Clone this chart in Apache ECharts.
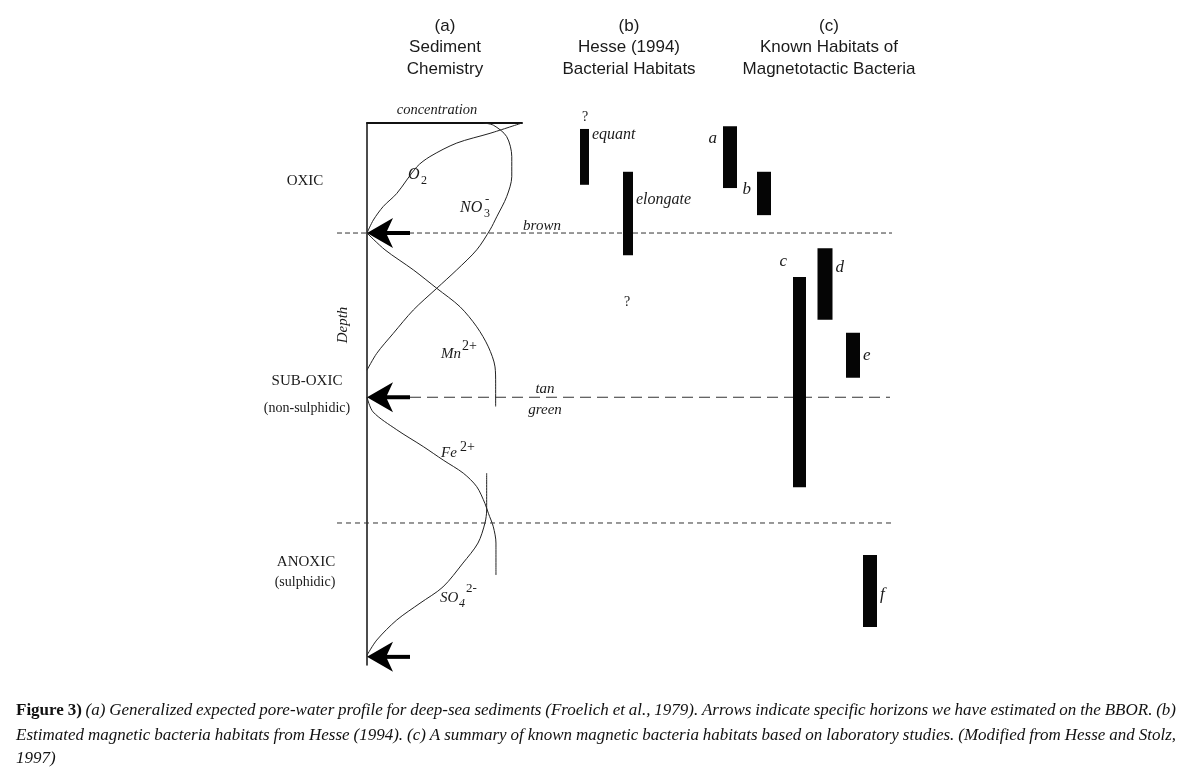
<!DOCTYPE html>
<html lang="en">
<head>
<meta charset="UTF-8">
<title>Sediment chemistry and magnetotactic bacteria habitats</title>
<script src="https://cdn.jsdelivr.net/npm/echarts@6/dist/echarts.min.js"></script>
<style>html,body{margin:0;background:#fff;}</style>
</head>
<body>
<div id="main" style="width:1193px;height:770px;"></div>
<script>
// depth: 0 = sediment surface, 100 = base of profile; concentration: relative 0..100
var o2Profile = [[100, 0], [79.4, 1.9], [57.9, 3.7], [40.6, 6.2], [32.1, 8.1], [19.2, 13.0], [10.5, 15.4], [4.1, 17.9], [0, 20.3]];
var no3Profile = [[75, 0], [81.5, 0.4], [90.1, 2.5], [93.4, 6.2], [93.4, 9.9], [90.1, 13.6], [83.7, 17.3], [79.4, 19.7], [70.8, 23.4], [57.9, 27.1], [45.0, 30.5], [29.9, 34.5], [17.0, 38.8], [6.3, 42.5], [0, 45.6]];
var mnProfile = [[0, 20.3], [11.6, 23.4], [29.9, 27.1], [45.0, 30.5], [60.0, 33.9], [70.8, 37.6], [78.3, 41.3], [82.6, 45.0], [83.0, 48.0], [83.0, 52.3]];
var feProfile = [[0, 50.6], [3.9, 53.3], [19.2, 56.6], [36.3, 59.7], [49.2, 62.2], [62.1, 64.6], [70.8, 67.1], [76.1, 70.2], [78.3, 72.0], [81.5, 74.5], [83.2, 77.5], [83.2, 83.4]];
var so4Profile = [[77.2, 64.6], [77.2, 71.4], [76.1, 73.8], [71.6, 77.5], [61.9, 81.2], [49.0, 85.6], [34.2, 88.6], [19.2, 91.7], [6.3, 95.4], [0, 98.2]];

// estimated horizons (arrows) and zone boundaries
var arrowDepths = [20.3, 50.6, 98.5];
var horizonDepths = [20.3, 50.6, 73.8];

// habitat depth ranges
var habitatNames = ['equant', 'elongate', 'a', 'b', 'c', 'd', 'e', 'f'];
var habitatTop = [1.1, 9.0, 0.6, 9.0, 28.4, 23.1, 38.7, 79.7];
var habitatBottom = [11.4, 24.4, 12.0, 17.0, 67.2, 36.3, 47.0, 93.0];

// layout only: column of each habitat bar, bar width, label placement
var habitatCol = [49.5, 58.2, 78.6, 85.4, 92.5, 97.6, 103.2, 106.6];
var habitatWidth = [9, 10, 14, 14, 13, 15, 14, 14];
var habitatLabel = [['right', 6], ['right', 28], ['left', 12], ['left', 18], ['left', -15], ['right', 19], ['right', 23], ['right', 40]];
var horizonSpan = [[0, 111], [14.6, 110.6], [0, 111]];
var horizonDash = [[5, 3], [11, 6], [5, 4]];

var SERIF = '"Liberation Serif", "DejaVu Serif", serif';
var SANS = '"Liberation Sans", Arial, sans-serif';
var INK = '#1a1a1a';

var chart = echarts.init(document.getElementById('main'));

function profileSeries(data) {
    return {
        type: 'line', xAxisIndex: 0, yAxisIndex: 0, data: data,
        smooth: 0.3, showSymbol: false, silent: true,
        lineStyle: { color: '#222', width: 1 }
    };
}

function txt(x, y, text, opt) {
    opt = opt || {};
    return {
        type: 'text', x: x, y: y, rotation: opt.rotation || 0, silent: true,
        style: {
            text: text,
            font: (opt.italic ? 'italic ' : '') + (opt.bold ? 'bold ' : '') + (opt.size || 15) + 'px ' + (opt.family || SERIF),
            fill: opt.color || INK,
            align: opt.align || 'left',
            verticalAlign: 'middle'
        }
    };
}

// caption lines are justified by spreading the words
var measureCtx = document.createElement('canvas').getContext('2d');
function justifiedLine(words, x0, x1, y, last) {
    var total = 0;
    words.forEach(function (w) { measureCtx.font = w.font; w.w = measureCtx.measureText(w.t).width; total += w.w; });
    measureCtx.font = words[0].font;
    var gap = last ? measureCtx.measureText(' ').width : (x1 - x0 - total) / (words.length - 1);
    var x = x0, out = [];
    words.forEach(function (w) {
        out.push({ type: 'text', x: x, y: y, silent: true, style: { text: w.t, font: w.font, fill: '#111', verticalAlign: 'middle' } });
        x += w.w + gap;
    });
    return out;
}
var capSize = 17;
var capItalic = 'italic ' + capSize + 'px ' + SERIF;
var capBold = 'bold ' + capSize + 'px ' + SERIF;
function wordsOf(s, font) { return s.split(' ').map(function (t) { return { t: t, font: font }; }); }
var captionLines = [
    wordsOf('Figure 3)', capBold).concat(wordsOf('(a) Generalized expected pore-water profile for deep-sea sediments (Froelich et al., 1979). Arrows indicate specific horizons we have estimated on the BBOR. (b)', capItalic)),
    wordsOf('Estimated magnetic bacteria habitats from Hesse (1994). (c) A summary of known magnetic bacteria habitats based on laboratory studies. (Modified from Hesse and Stolz,', capItalic),
    wordsOf('1997)', capItalic)
];

var graphics = [
    // headings
    txt(445, 26, '(a)', { family: SANS, size: 17, align: 'center' }),
    txt(445, 47, 'Sediment', { family: SANS, size: 17, align: 'center' }),
    txt(445, 69, 'Chemistry', { family: SANS, size: 17, align: 'center' }),
    txt(629, 26, '(b)', { family: SANS, size: 17, align: 'center' }),
    txt(629, 47, 'Hesse (1994)', { family: SANS, size: 17, align: 'center' }),
    txt(629, 69, 'Bacterial Habitats', { family: SANS, size: 17, align: 'center' }),
    txt(829, 26, '(c)', { family: SANS, size: 17, align: 'center' }),
    txt(829, 47, 'Known Habitats of', { family: SANS, size: 17, align: 'center' }),
    txt(829, 69, 'Magnetotactic Bacteria', { family: SANS, size: 17, align: 'center' }),
    // axis names
    txt(437, 110, 'concentration', { italic: true, size: 14.5, align: 'center' }),
    txt(343, 325, 'Depth', { italic: true, size: 15, align: 'center', rotation: Math.PI / 2 }),
    // zones
    txt(305, 181, 'OXIC', { size: 15, align: 'center' }),
    txt(307, 381, 'SUB-OXIC', { size: 15, align: 'center' }),
    txt(307, 408, '(non-sulphidic)', { size: 14, align: 'center' }),
    txt(306, 562, 'ANOXIC', { size: 15, align: 'center' }),
    txt(305, 582, '(sulphidic)', { size: 14, align: 'center' }),
    // species
    txt(408, 175, 'O', { italic: true, size: 16 }),
    txt(421, 181, '2', { size: 12 }),
    txt(460, 208, 'NO', { italic: true, size: 16 }),
    txt(484, 214, '3', { size: 12 }),
    txt(485, 200, '-', { size: 13 }),
    txt(441, 354, 'Mn', { italic: true, size: 15 }),
    txt(462, 346, '2+', { size: 14 }),
    txt(441, 453, 'Fe', { italic: true, size: 15 }),
    txt(460, 447, '2+', { size: 14 }),
    txt(440, 598, 'SO', { italic: true, size: 15 }),
    txt(459, 604, '4', { italic: true, size: 12 }),
    txt(466, 589, '2-', { size: 13 }),
    // horizon colours
    txt(542, 226, 'brown', { italic: true, size: 15, align: 'center' }),
    txt(545, 389, 'tan', { italic: true, size: 15, align: 'center' }),
    txt(545, 410, 'green', { italic: true, size: 15, align: 'center' }),
    txt(585, 117, '?', { size: 14, align: 'center' }),
    txt(627, 302, '?', { size: 14, align: 'center' })
];
graphics = graphics
    .concat(justifiedLine(captionLines[0], 16, 1176, 711))
    .concat(justifiedLine(captionLines[1], 16, 1176, 736))
    .concat(justifiedLine(captionLines[2], 16, 1176, 759, true));

var option = {
    backgroundColor: '#fff',
    animation: false,
    grid: [
        { left: 367, top: 123, width: 155, height: 542 },
        { left: 337, top: 123, width: 560, height: 542 }
    ],
    xAxis: [
        {
            type: 'value', gridIndex: 0, min: 0, max: 100, position: 'top',
            axisLine: { show: true, lineStyle: { color: '#111', width: 2 } },
            axisTick: { show: false }, axisLabel: { show: false }, splitLine: { show: false }
        },
        {
            type: 'value', gridIndex: 1, min: 0, max: 112, show: false
        }
    ],
    yAxis: [
        {
            type: 'value', gridIndex: 0, min: 0, max: 100, inverse: true,
            axisLine: { show: true, onZero: false, lineStyle: { color: '#111', width: 1.5 } },
            axisTick: { show: false }, axisLabel: { show: false }, splitLine: { show: false }
        },
        {
            type: 'value', gridIndex: 1, min: 0, max: 100, inverse: true, show: false
        }
    ],
    graphic: graphics,
    series: [
        profileSeries(o2Profile),
        profileSeries(no3Profile),
        profileSeries(mnProfile),
        profileSeries(feProfile),
        profileSeries(so4Profile),
        {
            // zone boundaries
            type: 'custom', xAxisIndex: 1, yAxisIndex: 1, silent: true,
            data: horizonDepths.map(function (d, i) { return [horizonSpan[i][0], d, horizonSpan[i][1], i]; }),
            encode: { x: [0, 2], y: 1 },
            renderItem: function (params, api) {
                var i = api.value(3);
                var p1 = api.coord([api.value(0), api.value(1)]);
                var p2 = api.coord([api.value(2), api.value(1)]);
                return {
                    type: 'line',
                    shape: { x1: p1[0], y1: p1[1], x2: p2[0], y2: p2[1] },
                    style: { stroke: '#333', lineWidth: 1, lineDash: horizonDash[i] }
                };
            }
        },
        {
            // horizon arrows pointing at the depth axis
            type: 'custom', xAxisIndex: 0, yAxisIndex: 0, silent: true,
            data: arrowDepths.map(function (d) { return [0, d]; }),
            renderItem: function (params, api) {
                var p = api.coord([api.value(0), api.value(1)]);
                var x = p[0], y = p[1];
                return {
                    type: 'group',
                    children: [
                        { type: 'rect', shape: { x: x + 16, y: y - 2, width: 27, height: 4 }, style: { fill: '#000' } },
                        {
                            type: 'polygon',
                            shape: { points: [[x, y], [x + 26, y - 15], [x + 20, y - 2], [x + 20, y + 2], [x + 26, y + 15]] },
                            style: { fill: '#000' }
                        }
                    ]
                };
            }
        },
        {
            // habitat bars
            type: 'custom', xAxisIndex: 1, yAxisIndex: 1, silent: true,
            data: habitatNames.map(function (n, i) { return [habitatCol[i], habitatTop[i], habitatBottom[i], i]; }),
            encode: { x: 0, y: [1, 2] },
            renderItem: function (params, api) {
                var i = api.value(3);
                var a = api.coord([api.value(0), api.value(1)]);
                var b = api.coord([api.value(0), api.value(2)]);
                var w = habitatWidth[i];
                var lab = habitatLabel[i];
                var single = habitatNames[i].length === 1;
                var tx = lab[0] === 'right' ? a[0] + w / 2 + 3 : a[0] - w / 2 - 6;
                return {
                    type: 'group',
                    children: [
                        { type: 'rect', shape: { x: a[0] - w / 2, y: a[1], width: w, height: b[1] - a[1] }, style: { fill: '#050505' } },
                        {
                            type: 'text', x: tx, y: a[1] + lab[1],
                            style: {
                                text: habitatNames[i],
                                font: 'italic ' + (single ? 17 : 16) + 'px ' + SERIF,
                                fill: INK, align: lab[0] === 'right' ? 'left' : 'right', verticalAlign: 'middle'
                            }
                        }
                    ]
                };
            }
        }
    ]
};

chart.setOption(option);
</script>
</body>
</html>
